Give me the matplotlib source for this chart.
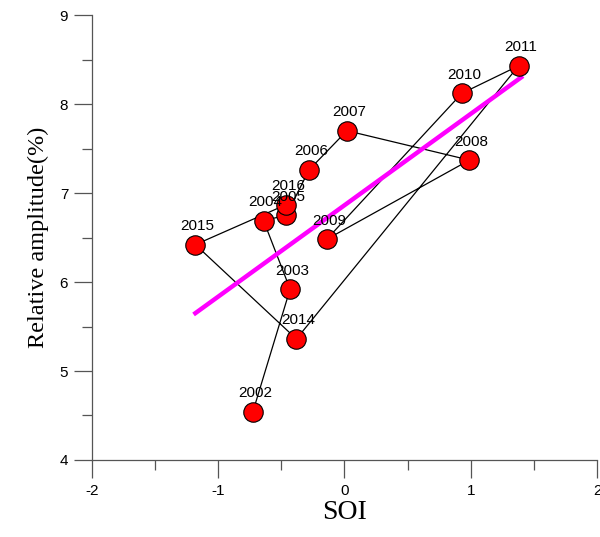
import matplotlib
matplotlib.use('Agg')
import matplotlib.pyplot as plt
from matplotlib.ticker import MultipleLocator

years = ['2002', '2003', '2004', '2005', '2006', '2007', '2008', '2009',
         '2010', '2011', '2014', '2015', '2016']
soi = [-0.725, -0.43, -0.64, -0.46, -0.28, 0.02, 0.99, -0.14,
       0.93, 1.38, -0.38, -1.18, -0.46]
amplitude = [4.54, 5.92, 6.69, 6.75, 7.26, 7.70, 7.37, 6.48,
             8.12, 8.43, 5.36, 6.42, 6.87]

fit_x = [-1.18, 1.40]
fit_y = [5.65, 8.30]

plt.rcParams['axes.unicode_minus'] = False


def main():
    fig = plt.figure(figsize=(6.0, 5.37), dpi=100)
    ax = fig.add_axes([0.153, 0.1434, 0.842, 0.8286])

    ax.plot(soi, amplitude, color='black', lw=0.9, zorder=1)
    ax.plot(fit_x, fit_y, color='#ff00ff', lw=3.2, zorder=2)
    ax.plot(soi, amplitude, ls='none', marker='o', ms=14, mfc='red',
            mec='black', mew=0.8, zorder=3)

    for yr, x, y in zip(years, soi, amplitude):
        ax.annotate(yr, (x, y), xytext=(1.5, 10.5), textcoords='offset points',
                    ha='center', va='baseline', fontsize=11,
                    family='Liberation Sans', zorder=4)

    ax.set_xlim(-2, 2)
    ax.set_ylim(4, 9)
    ax.xaxis.set_major_locator(MultipleLocator(1))
    ax.xaxis.set_minor_locator(MultipleLocator(0.5))
    ax.yaxis.set_major_locator(MultipleLocator(1))
    ax.yaxis.set_minor_locator(MultipleLocator(0.5))

    for s in ['top', 'right']:
        ax.spines[s].set_visible(False)
    for s in ['left', 'bottom']:
        ax.spines[s].set_color('#555555')
        ax.spines[s].set_linewidth(0.9)

    ax.tick_params(which='major', direction='out', length=13, width=0.9,
                   color='#555555', labelsize=11, pad=4)
    ax.tick_params(which='minor', direction='out', length=7, width=0.9,
                   color='#555555')
    for lab in ax.get_xticklabels() + ax.get_yticklabels():
        lab.set_family('Liberation Sans')

    ax.set_xlabel('SOI', family='Liberation Serif', fontsize=20, labelpad=2)
    ax.set_ylabel('Relative amplitude(%)', family='Liberation Serif',
                  fontsize=17.5, labelpad=8)

    fig.savefig('out.png', dpi=100)


if __name__ == '__main__':
    main()
